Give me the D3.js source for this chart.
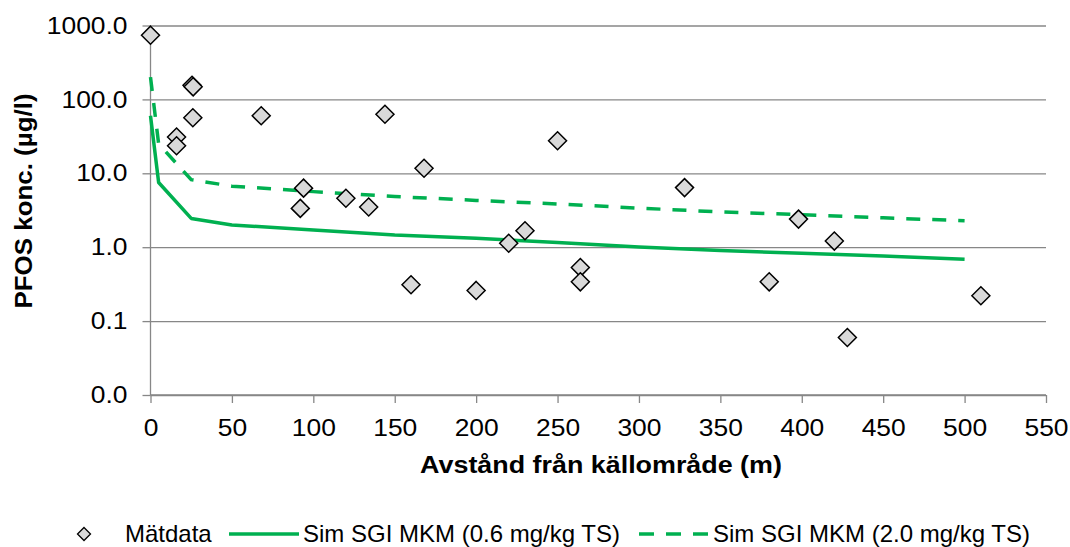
<!DOCTYPE html>
<html>
<head>
<meta charset="utf-8">
<script src="https://cdn.jsdelivr.net/npm/d3@7"></script>
<style>
  html, body { margin: 0; padding: 0; background: #fff; }
  svg { display: block; font-family: "Liberation Sans", Arial, sans-serif; }
</style>
</head>
<body>
<svg id="chart" width="1070" height="547"></svg>
<script>
// Measured PFOS concentrations: distance from source (m) and concentration (µg/l)
const matDistance = [0, 25.5, 26.2, 26, 68, 144, 16, 16, 168, 94, 92, 120, 134, 160, 250, 328, 230, 220, 200, 264, 264, 398, 420, 380, 428, 510];
const matConc     = [740, 155, 148, 56.5, 60, 63, 31, 23.6, 11.7, 6.3, 3.35, 4.6, 3.5, 0.31, 27.6, 6.4, 1.67, 1.13, 0.26, 0.53, 0.34, 2.4, 1.21, 0.34, 0.06, 0.22];

// Simulated profiles (SGI MKM)
const simDistance = [0, 5, 25, 50, 100, 150, 200, 250, 300, 350, 400, 450, 500];
const simLow  = [60, 7.5, 2.45, 2.0, 1.71, 1.46, 1.32, 1.16, 1.01, 0.9, 0.83, 0.76, 0.685];
const simHigh = [200, 25, 8.2, 6.7, 5.65, 4.85, 4.3, 3.85, 3.38, 3.0, 2.75, 2.5, 2.28];

// Axis ticks
const xTicks = [0, 50, 100, 150, 200, 250, 300, 350, 400, 450, 500, 550];
const yTicks = [0.01, 0.1, 1, 10, 100, 1000];

const seriesNames = ["Mätdata", "Sim SGI MKM (0.6 mg/kg TS)", "Sim SGI MKM (2.0 mg/kg TS)"];
const xTitle = "Avstånd från källområde (m)";
const yTitle = "PFOS konc. (µg/l)";

const GREEN = "#00b050";
const GRID = "#878787";
const DASH = "14,12";

const svg = d3.select("#chart");
const plotLeft = 150.5, plotRight = 1046, plotTop = 25.5, plotBottom = 395;

const x = d3.scaleLinear().domain([0, 550]).range([plotLeft, plotRight]);
const y = d3.scaleLog().domain([0.01, 1000]).range([plotBottom, plotTop]);

// horizontal gridlines
svg.append("g")
  .attr("transform", `translate(${plotLeft},0)`)
  .call(d3.axisLeft(y).tickValues(yTicks).tickSize(-(plotRight - plotLeft)).tickFormat(""))
  .call(g => g.select(".domain").remove())
  .call(g => g.selectAll("line").attr("stroke", GRID).attr("stroke-width", 1.3));

// y axis
const yAxis = svg.append("g")
  .attr("transform", `translate(${plotLeft},0)`)
  .call(d3.axisLeft(y).tickValues(yTicks).tickSize(8).tickPadding(15).tickFormat(d3.format(".1f")));
yAxis.select(".domain").attr("stroke", GRID).attr("stroke-width", 1.3).attr("d", `M0,${plotBottom}V${plotTop}`);
yAxis.selectAll("line").attr("stroke", GRID).attr("stroke-width", 1.3);
yAxis.selectAll("text")
  .attr("font-size", 24).attr("fill", "#000").attr("font-family", null)
  .attr("transform", function () { return `translate(${d3.select(this).attr("x")},0) scale(1.1,1)`; })
  .attr("x", 0);

// x axis
const xAxis = svg.append("g")
  .attr("transform", `translate(0,${plotBottom})`)
  .call(d3.axisBottom(x).tickValues(xTicks).tickSize(8).tickPadding(16));
xAxis.select(".domain").attr("stroke", GRID).attr("stroke-width", 1.3).attr("d", `M${plotLeft},0H${plotRight}`);
xAxis.selectAll("line").attr("stroke", GRID).attr("stroke-width", 1.3);
xAxis.selectAll("text")
  .attr("font-size", 24).attr("fill", "#000").attr("font-family", null)
  .attr("transform", function () { return `translate(0,${d3.select(this).attr("y")}) scale(1.1,1)`; })
  .attr("y", 0);

// axis titles
svg.append("text")
  .attr("transform", `translate(601,473) scale(1.12,1)`)
  .attr("text-anchor", "middle").attr("font-size", 24).attr("font-weight", "bold")
  .text(xTitle);
svg.append("text")
  .attr("transform", `translate(32,201) rotate(-90) scale(1.08,1)`)
  .attr("text-anchor", "middle").attr("font-size", 24).attr("font-weight", "bold")
  .text(yTitle);

// simulated lines
const line = d3.line().x(d => x(d[0])).y(d => y(d[1]));
svg.append("path")
  .datum(d3.zip(simDistance, simLow))
  .attr("d", line).attr("fill", "none")
  .attr("stroke", GREEN).attr("stroke-width", 3.5).attr("stroke-linejoin", "round");
svg.append("path")
  .datum(d3.zip(simDistance, simHigh))
  .attr("d", line).attr("fill", "none")
  .attr("stroke", GREEN).attr("stroke-width", 3.5).attr("stroke-dasharray", DASH);

// measured points as diamonds
const diamond = r => `M0,${-r}L${r},0L0,${r}L${-r},0Z`;
svg.append("g").selectAll("path")
  .data(d3.zip(matDistance, matConc))
  .join("path")
  .attr("transform", d => `translate(${x(d[0])},${y(d[1])})`)
  .attr("d", diamond(9))
  .attr("fill", "#d9d9d9").attr("stroke", "#000").attr("stroke-width", 1.5);

// legend
const ly = 534;
const legend = svg.append("g").attr("font-size", 24);
legend.append("path").attr("transform", `translate(84,${ly})`).attr("d", diamond(6.5))
  .attr("fill", "#d9d9d9").attr("stroke", "#000").attr("stroke-width", 1.3);
legend.append("text").attr("x", 125).attr("y", ly + 8).text(seriesNames[0]);
legend.append("line").attr("x1", 229).attr("x2", 299).attr("y1", ly).attr("y2", ly)
  .attr("stroke", GREEN).attr("stroke-width", 3.5);
legend.append("text").attr("x", 303).attr("y", ly + 8).text(seriesNames[1]);
legend.append("line").attr("x1", 639).attr("x2", 709).attr("y1", ly).attr("y2", ly)
  .attr("stroke", GREEN).attr("stroke-width", 3.5).attr("stroke-dasharray", "15,12");
legend.append("text").attr("x", 713).attr("y", ly + 8).text(seriesNames[2]);
</script>
</body>
</html>
